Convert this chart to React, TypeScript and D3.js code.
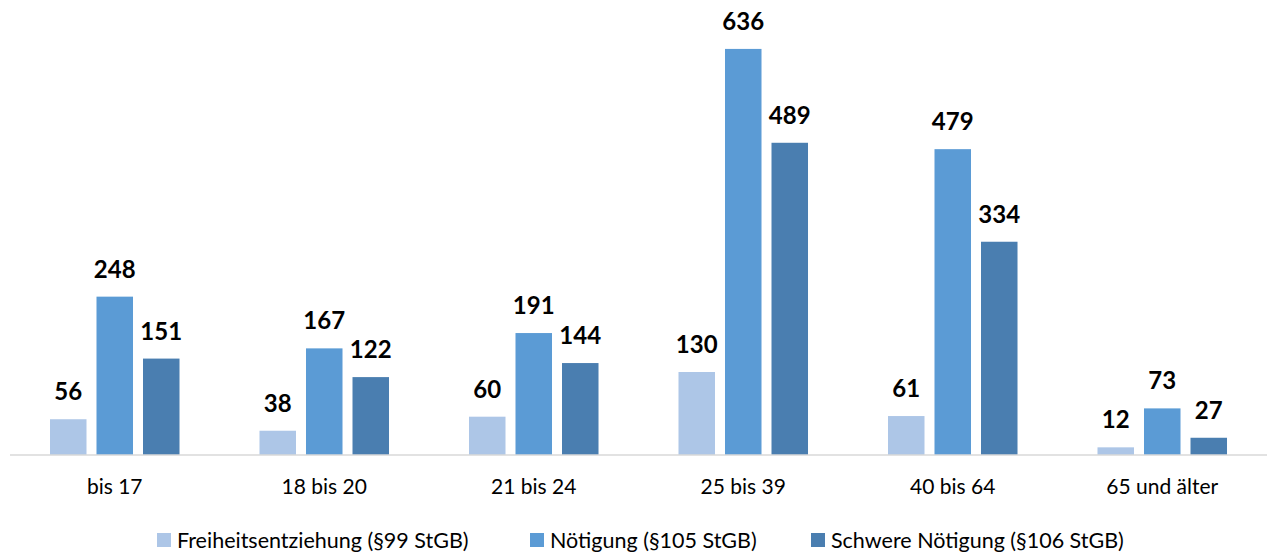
import React from "react";
import * as d3 from "d3";

const categories = ["bis 17", "18 bis 20", "21 bis 24", "25 bis 39", "40 bis 64", "65 und älter"];
const seriesNames = ["Freiheitsentziehung (§99 StGB)", "Nötigung (§105 StGB)", "Schwere Nötigung (§106 StGB)"];
const freiheitsentziehung = [56, 38, 60, 130, 61, 12];
const noetigung = [248, 167, 191, 636, 479, 73];
const schwereNoetigung = [151, 122, 144, 489, 334, 27];
const seriesValues = [freiheitsentziehung, noetigung, schwereNoetigung];
const colors = ["#ADC6E7", "#5B9BD5", "#4A7EB0"];

const W = 1272;
const H = 553;
const FONT = "Lato, 'Open Sans', sans-serif";

export default function App() {
  const baseY = 455;
  const x0 = d3.scaleBand<string>().domain(categories).range([10, 1267]).paddingInner(0).paddingOuter(0);
  const x1 = d3
    .scaleBand<string>()
    .domain(seriesNames)
    .range([0, x0.bandwidth()])
    .paddingInner(0.215)
    .paddingOuter(0.86);
  const y = d3.scaleLinear().domain([0, 700]).range([baseY, baseY - 700 * 0.6385]);

  const legendX = [157, 530, 811];

  return (
    <svg width={W} height={H} style={{ position: "absolute", left: 0, top: 0, background: "#fff" }}>
      {categories.map((c, ci) => (
        <g key={c} transform={`translate(${x0(c)},0)`}>
          {seriesNames.map((s, si) => {
            const v = seriesValues[si][ci];
            const bx = x1(s)!;
            const by = y(v);
            return (
              <g key={s}>
                <rect x={bx} y={by} width={x1.bandwidth()} height={baseY - by} fill={colors[si]} />
                <text
                  x={bx + x1.bandwidth() / 2}
                  y={by - 19}
                  textAnchor="middle"
                  fontFamily={FONT}
                  fontWeight="bold"
                  fontSize={24}
                  fill="#000"
                >
                  {v}
                </text>
              </g>
            );
          })}
          <text
            x={x0.bandwidth() / 2}
            y={494}
            textAnchor="middle"
            fontFamily={FONT}
            fontSize={21}
            fill="#000"
          >
            {c}
          </text>
        </g>
      ))}
      <line x1={10} x2={1267} y1={baseY} y2={baseY} stroke="#D9D9D9" strokeWidth={1.5} />
      {seriesNames.map((s, si) => (
        <g key={s} transform={`translate(${legendX[si]},0)`}>
          <rect x={0} y={533} width={14} height={14} fill={colors[si]} />
          <text x={20} y={547.5} fontFamily={FONT} fontSize={21.5} fill="#000">
            {s}
          </text>
        </g>
      ))}
    </svg>
  );
}
